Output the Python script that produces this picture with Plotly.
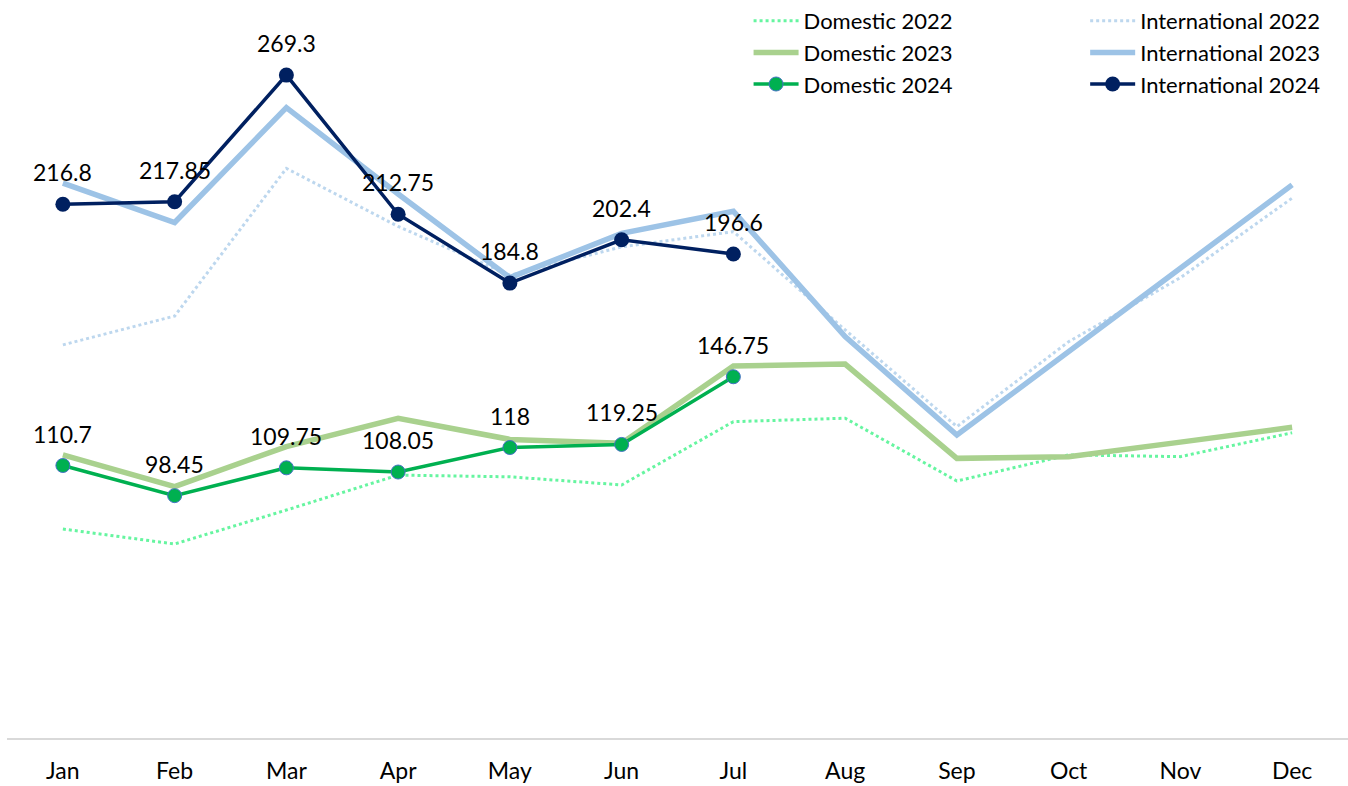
import plotly.graph_objects as go

months = ["Jan", "Feb", "Mar", "Apr", "May", "Jun", "Jul", "Aug", "Sep", "Oct", "Nov", "Dec"]

domestic_2022 = [84.9, 78.8, 92.6, 106.8, 106.1, 102.8, 128.5, 129.9, 104.4, 115.0, 114.3, 124.0]
domestic_2023 = [115.0, 102.1, 118.4, 129.9, 121.3, 119.7, 151.1, 151.9, 113.6, 114.3, 120.2, 126.2]
domestic_2024 = [110.7, 98.45, 109.75, 108.05, 118, 119.25, 146.75]

international_2022 = [159.7, 171.4, 231.4, 207.8, 188.0, 199.5, 205.7, 165.8, 126.5, 161.0, 187.0, 219.3]
international_2023 = [225.4, 209.4, 256.1, 221.0, 187.0, 205.0, 214.0, 163.1, 123.1, 157.0, 191.0, 224.7]
international_2024 = [216.8, 217.85, 269.3, 212.75, 184.8, 202.4, 196.6]

FONT = "Lato, Open Sans, sans-serif"
FS = 23
LEG_FONT = dict(family="Lato, Open Sans, sans-serif", size=22, color="#000000")

fig = go.Figure()

fig.add_trace(go.Scatter(x=months, y=domestic_2022, name="Domestic 2022", mode="lines",
                         line=dict(color="#66F5A0", width=3, dash="dot"), legend="legend"))
fig.add_trace(go.Scatter(x=months, y=domestic_2023, name="Domestic 2023", mode="lines",
                         line=dict(color="#A9D18E", width=5.5), legend="legend"))
fig.add_trace(go.Scatter(x=months[:len(domestic_2024)], y=domestic_2024, name="Domestic 2024",
                         mode="lines+markers",
                         line=dict(color="#00B050", width=3.5),
                         marker=dict(size=14, color="#00B050", line=dict(color="#4472C4", width=1)),
                         legend="legend"))

fig.add_trace(go.Scatter(x=months, y=international_2022, name="International 2022", mode="lines",
                         line=dict(color="#BDD7EE", width=3, dash="dot"), legend="legend2"))
fig.add_trace(go.Scatter(x=months, y=international_2023, name="International 2023", mode="lines",
                         line=dict(color="#9DC3E6", width=5.5), legend="legend2"))
fig.add_trace(go.Scatter(x=months[:len(international_2024)], y=international_2024, name="International 2024",
                         mode="lines+markers",
                         line=dict(color="#002060", width=3.5),
                         marker=dict(size=15, color="#002060"),
                         legend="legend2"))

annotations = []
for series in (domestic_2024, international_2024):
    for m, v in zip(months, series):
        annotations.append(dict(x=m, y=v, xref="x", yref="y", text=f"{v:g}",
                                showarrow=False, yshift=32,
                                font=dict(family=FONT, size=FS, color="#000000")))

fig.update_layout(
    width=1348, height=786,
    margin=dict(l=7, r=0, t=0, b=48),
    paper_bgcolor="white", plot_bgcolor="white",
    font=dict(family=FONT, size=FS, color="#000000"),
    showlegend=True,
    legend=dict(x=0.553, y=1.0, xanchor="left", yanchor="top", bgcolor="rgba(0,0,0,0)",
                font=LEG_FONT, tracegroupgap=0, itemwidth=45),
    legend2=dict(x=0.804, y=1.0, xanchor="left", yanchor="top", bgcolor="rgba(0,0,0,0)",
                 font=LEG_FONT, tracegroupgap=0, itemwidth=45),
    annotations=annotations,
    xaxis=dict(range=[-0.5, 11.5], showgrid=False, showline=True, linecolor="#D9D9D9", linewidth=1.5,
               ticks="", tickfont=dict(family=FONT, size=FS, color="#000000"),
               ticklabelstandoff=12, zeroline=False),
    yaxis=dict(range=[0, 299.8], showgrid=False, showticklabels=False, zeroline=False,
               showline=False, ticks=""),
)

fig.write_html("out.html", config={"displayModeBar": False},
               post_script="document.body.style.margin='0';")
